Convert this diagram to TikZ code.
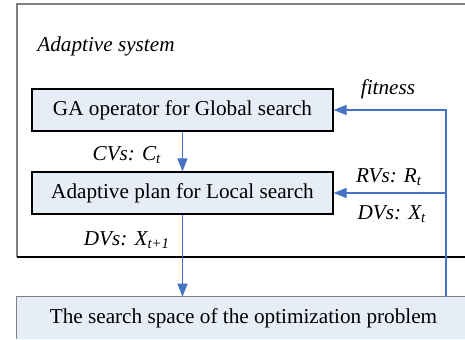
\documentclass[tikz,border=0pt]{standalone}
\usepackage{fontspec}
\setmainfont{Liberation Serif}
\usetikzlibrary{arrows.meta}
\definecolor{boxfill}{RGB}{231,237,247}
\definecolor{linkblue}{RGB}{68,114,196}
\definecolor{framegray}{RGB}{128,128,128}

\begin{document}
\begin{tikzpicture}[x=0.5pt, y=-0.5pt,
  box/.style={rectangle, draw, fill=boxfill, line width=0.6pt,
    minimum width=150.5pt, minimum height=21pt, inner sep=0pt, font=\fontsize{10.6}{12}\selectfont},
  lbl/.style={font=\fontsize{10.6}{12}\selectfont\itshape, inner sep=0pt},
  arr/.style={-{Triangle[width=5pt, length=6.5pt]}, linkblue, line width=0.6pt}
]
\useasboundingbox (0,0) rectangle (465,339);

% outer frame and the problem box run off the right edge
\coordinate (sysnw) at (17,4);
\coordinate (sysse) at (465,257);
\draw[framegray, line width=0.8pt] (sysse |- sysnw) -- (sysnw) -- (sysnw |- sysse);
\draw[line width=0.6pt] (sysnw |- sysse) -- (sysse);
\node[fill=boxfill, inner sep=0pt, minimum width=226.5pt, minimum height=21pt,
  font=\fontsize{10.6}{12}\selectfont] (space) at (243.5,318)
  {The search space of the optimization problem};
\draw[framegray, line width=0.6pt] (space.north east) -- (space.north west) -- (space.south west);

\node[box] (ga)    at (182.5,110) {GA operator for Global search};
\node[box] (local) at (182.5,193) {Adaptive plan for Local search};
\coordinate (tap) at (446,297);

\node[lbl, anchor=west] (title) at (37,46) {Adaptive system};
\node[lbl] (fit)  at (388,89)  {fitness};
\node[lbl] (cvs)  at (127,155) {CVs: C\textsubscript{t}};
\node[lbl] (rvs)  at (389,177) {RVs: R\textsubscript{t}};
\node[lbl] (dvs)  at (392,214) {DVs: X\textsubscript{t}};
\node[lbl] (dvs1) at (127,240) {DVs: X\textsubscript{t+1}};

\draw[arr] (ga) -- (local);
\draw[arr] (local) -- (local |- space.north);
\draw[arr] (tap) |- (ga.east);
\draw[arr] (local.east -| tap) -- (local.east);
\end{tikzpicture}
\end{document}
